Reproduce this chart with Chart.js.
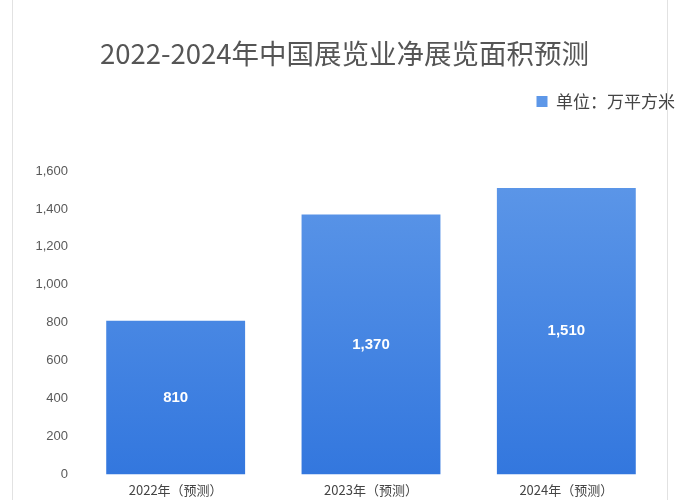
<!DOCTYPE html>
<html><head><meta charset="utf-8">
<script src="https://cdn.jsdelivr.net/npm/chart.js@4.4.0/dist/chart.umd.min.js"></script>
<style>
html,body{margin:0;padding:0;background:#fff;}
#wrap{position:relative;width:700px;height:500px;}
#frame{position:absolute;left:12px;top:0;width:656px;height:500px;border-left:1px solid #e2e2e2;border-right:1px solid #e2e2e2;box-sizing:border-box;pointer-events:none;}
</style></head>
<body>
<div id="wrap"><canvas id="c" width="700" height="500"></canvas><div id="frame"></div></div>
<script>
const categories = ["2022年（预测）", "2023年（预测）", "2024年（预测）"];
const areaValues = [810, 1370, 1510];
const seriesName = "单位：万平方米";
const titleText = "2022-2024年中国展览业净展览面积预测";

const valueLabels = {
  id: 'valueLabels',
  beforeLayout(chart) {
    const lg = chart.legend;
    if (lg && !lg._patched) {
      const orig = lg.fit;
      lg.fit = function () { orig.call(this); this.height += 51; };
      lg._patched = true;
    }
  },
  afterDatasetsDraw(chart) {
    const ctx = chart.ctx;
    const meta = chart.getDatasetMeta(0);
    ctx.save();
    ctx.fillStyle = '#ffffff';
    ctx.font = 'bold 15px "Liberation Sans", Arial, sans-serif';
    ctx.textAlign = 'center';
    ctx.textBaseline = 'middle';
    meta.data.forEach((bar, i) => {
      const p = bar.getProps(['x', 'y', 'base'], true);
      ctx.fillText(areaValues[i].toLocaleString('en-US'), p.x, (p.y + p.base) / 2);
    });
    ctx.restore();
  }
};

function barFill(context) {
  const chart = context.chart;
  const area = chart.chartArea;
  if (!area) return '#3f80e2';
  const g = chart.ctx.createLinearGradient(0, area.top, 0, area.bottom);
  g.addColorStop(0, '#5d97e8');
  g.addColorStop(1, '#3377de');
  return g;
}

new Chart(document.getElementById('c'), {
  type: 'bar',
  data: {
    labels: categories,
    datasets: [{
      label: seriesName,
      data: areaValues,
      backgroundColor: barFill,
      borderWidth: 0,
      categoryPercentage: 0.711,
      barPercentage: 1.0
    }]
  },
  options: {
    responsive: false,
    animation: false,
    layout: { padding: { left: 14, right: 25, top: 30, bottom: 2 } },
    plugins: {
      title: {
        display: true,
        text: titleText,
        color: '#555555',
        font: { family: '"Noto Sans CJK SC", sans-serif', size: 27.5, weight: 'normal' },
        padding: { top: 7, bottom: 23 }
      },
      legend: {
        display: true,
        align: 'end',
        labels: {
          color: '#444444',
          boxWidth: 11,
          boxHeight: 11,
          font: { family: '"Noto Sans CJK SC", sans-serif', size: 17 },
          padding: 0
        }
      },
      tooltip: { enabled: false }
    },
    scales: {
      x: {
        grid: { display: false },
        border: { display: false },
        ticks: {
          color: '#444444',
          padding: 0,
          font: { family: '"Noto Sans CJK SC", sans-serif', size: 13 }
        }
      },
      y: {
        min: 0,
        max: 1600,
        grid: { display: false },
        border: { display: false },
        ticks: {
          stepSize: 200,
          color: '#595959',
          padding: 2,
          font: { family: '"Liberation Sans", Arial, sans-serif', size: 13 },
          callback: v => v.toLocaleString('en-US')
        },
        afterFit(s) { s.width = 64; }
      },
      yr: {
        position: 'right',
        display: true,
        grid: { display: false },
        border: { display: false },
        ticks: { display: false },
        afterFit(s) { s.width = 11; }
      }
    }
  },
  plugins: [valueLabels]
});
</script>
</body></html>
